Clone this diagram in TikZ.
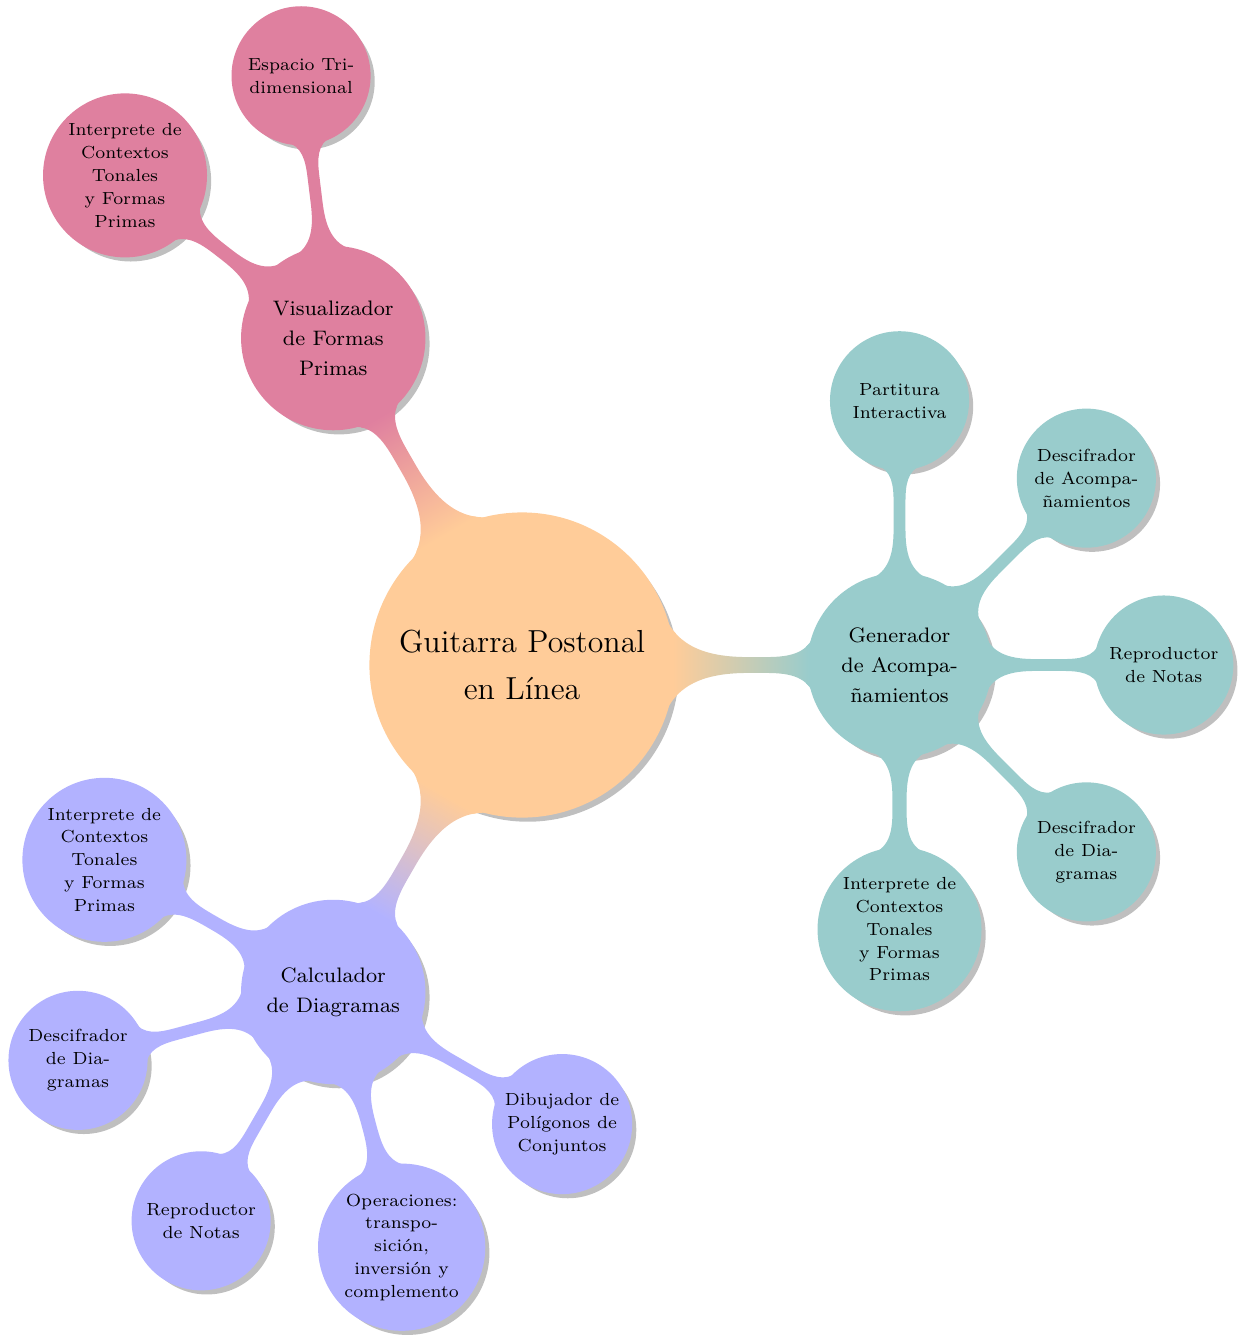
\documentclass[tikz,border=0pt]{standalone}
\usetikzlibrary{mindmap,shadows}
\tikzset{
  rootidea/.style={concept, drop shadow, minimum size=4cm,
    text width=, align=center, font=\fontsize{12}{17.6}\selectfont},
  mainidea/.style={concept, drop shadow, minimum size=2.4cm,
    text width=, align=center, font=\fontsize{7.9}{11.4}\selectfont},
  subidea/.style={concept, drop shadow, minimum size=1.8cm,
    text width=, align=center, font=\fontsize{6.6}{8.6}\selectfont}
}
\begin{document}
\begin{tikzpicture}[mindmap, concept color=orange!40, text=black,
    level 1/.append style={level distance=5cm},
    level 2/.append style={level distance=3.5cm}]
  \useasboundingbox (-6.914,-8.887) rectangle (9.483,8.808);
  \node[rootidea] (guitarra) at (0,0) {Guitarra Postonal\\en Línea}
    % visualizador
    child[concept color=purple!50, grow=120] {
      node[mainidea] (visual) {Visualizador\\de Formas\\Primas}
      child[grow=97.5] {node[subidea] (espacio) {Espacio Tri-\\dimensional}}
      child[grow=142.5] {node[subidea] (interpvis)
        {Interprete de\\Contextos\\Tonales\\y Formas\\Primas}}
    }
    % generador
    child[concept color=teal!40, grow=0] {
      node[mainidea] (genera) {Generador\\de Acompa-\\ñamientos}
      child[grow=90] {node[subidea] (partitura) {Partitura\\Interactiva}}
      child[grow=45] {node[subidea] (descacomp)
        {Descifrador\\de Acompa-\\ñamientos}}
      child[grow=0] {node[subidea] (reprogen) {Reproductor\\de Notas}}
      child[grow=-45] {node[subidea] (descdiagen)
        {Descifrador\\de Dia-\\gramas}}
      child[grow=-90] {node[subidea] (interpgen)
        {Interprete de\\Contextos\\Tonales\\y Formas\\Primas}}
    }
    % calculador
    child[concept color=blue!30, grow=240] {
      node[mainidea] (calcula) {Calculador\\de Diagramas}
      child[grow=150] {node[subidea] (interpcal)
        {Interprete de\\Contextos\\Tonales\\y Formas\\Primas}}
      child[grow=195] {node[subidea] (descdiacal)
        {Descifrador\\de Dia-\\gramas}}
      child[grow=240] {node[subidea] (reprocal) {Reproductor\\de Notas}}
      child[grow=285] {node[subidea] (operac)
        {Operaciones:\\transpo-\\sición,\\inversión y\\complemento}}
      child[grow=330] {node[subidea] (dibuja)
        {Dibujador de\\Polígonos de\\Conjuntos}}
    };
\end{tikzpicture}
\end{document}
